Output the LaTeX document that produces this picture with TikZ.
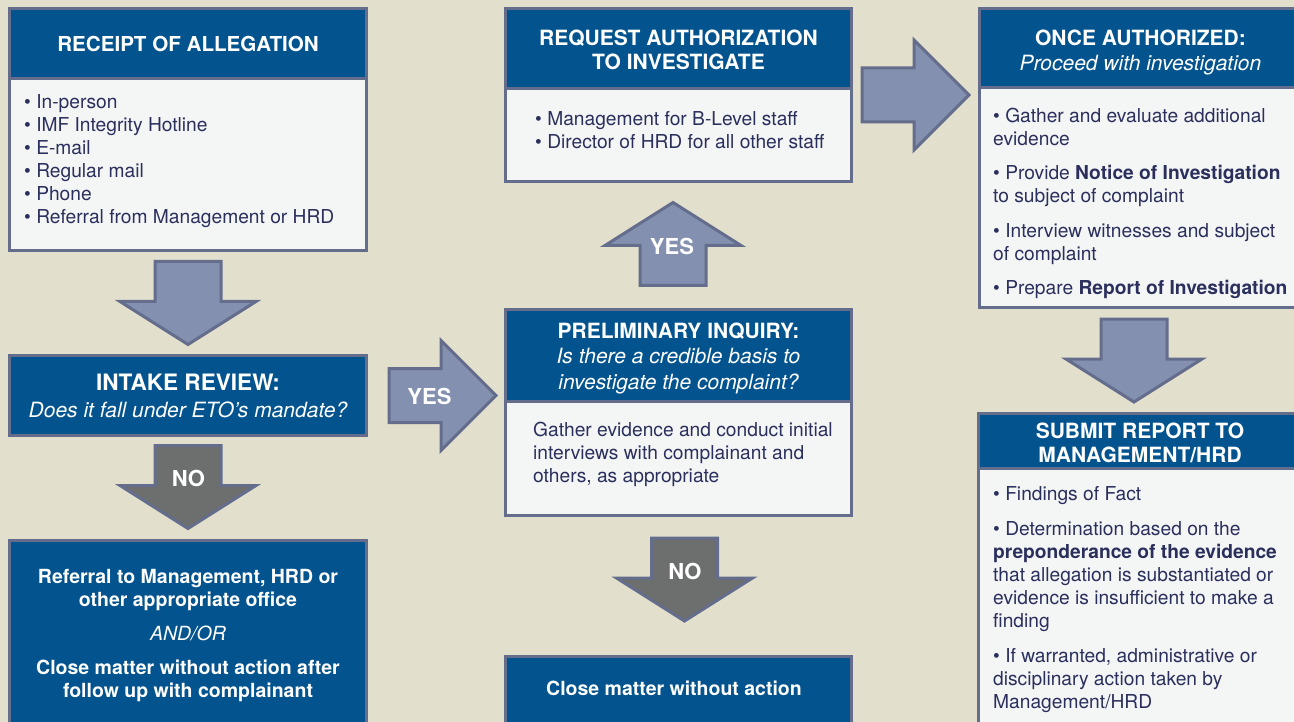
\documentclass[tikz,border=0pt]{standalone}
\usepackage{fontspec}
\setmainfont{TeX Gyre Heros}
\usepackage{xcolor}
\usetikzlibrary{calc}

\definecolor{paper}{HTML}{E2E0CD}
\definecolor{navy}{HTML}{02538E}
\definecolor{frame}{HTML}{646D8C}
\definecolor{pale}{HTML}{F4F5F5}
\definecolor{slate}{HTML}{8490AF}
\definecolor{stone}{HTML}{6D6E6E}
\definecolor{ink}{HTML}{2B2F5C}

\tikzset{
  banner/.style={draw=frame, line width=3pt, fill=navy, text=white, align=center,
    anchor=north west, outer sep=0pt, inner sep=0pt, text depth=0pt,
    font=\bfseries\fontsize{21}{24.5}\selectfont},
  panel/.style={draw=frame, line width=3pt, fill=pale, anchor=north west,
    outer sep=0pt, inner sep=0pt},
  bullets/.style={text=ink, align=left, anchor=north west, inner sep=0pt,
    font=\fontsize{19.2}{23}\selectfont},
  fat/.style={draw=frame, line width=3pt, line join=miter},
  tag/.style={text=white, font=\bfseries\fontsize{22}{22}\selectfont},
  % fat block arrows, drawn pointing down / right
  pics/fatdown/.style={code={\draw[fat, fill=#1] (-33,0) -- (33,0) -- (33,40) -- (68,40)
    -- (0,83) -- (-68,40) -- (-33,40) -- cycle;}},
  pics/fatdown/.default=slate,
  pics/fatright/.style={code={\draw[fat, fill=#1] (0,-27) -- (52,-27) -- (52,-55) -- (107,0)
    -- (52,55) -- (52,27) -- (0,27) -- cycle;}},
  pics/fatright/.default=slate
}

\begin{document}
\begin{tikzpicture}[x=1pt, y=-1pt]
  \useasboundingbox (0,0) rectangle (1294,722);
  \fill[paper] (0,0) rectangle (1294,722);
  \clip (0,0) rectangle (1294,722);

  % left column
  \node[banner, minimum width=357, minimum height=70, font=\bfseries\fontsize{20.6}{24}\selectfont]
    (receipt) at (9.5,9) {RECEIPT OF ALLEGATION};
  \node[panel, minimum width=357, minimum height=171.5] (receiptbox) at (receipt.south west) {};
  \node[bullets] (sources) at ($(receiptbox.north west)+(14.5,15)$)
    {\rule{0pt}{14pt}\textbullet\ In-person\\
     \textbullet\ IMF Integrity Hotline\\
     \textbullet\ E-mail\\
     \textbullet\ Regular mail\\
     \textbullet\ Phone\\
     \textbullet\ Referral from Management or HRD};

  \node[banner, minimum width=357, minimum height=80, font=\bfseries\fontsize{21}{27}\selectfont]
    (intake) at (9.5,355.5)
    {{\fontsize{22.6}{27}\selectfont INTAKE REVIEW:}\\ {\mdseries\itshape Does it fall under ETO’s mandate?}};

  \node[banner, minimum width=357, minimum height=185, font=\bfseries\fontsize{19.5}{23}\selectfont]
    (referral) at (9.5,540.5)
    {Referral to Management, HRD or\\ other appropriate office\\[11pt]
     {\mdseries\itshape AND/OR}\\[11pt]
     Close matter without action after\\ follow up with complainant};

  % middle column
  \node[banner, minimum width=346, minimum height=80.5] (request) at (505.5,8.5)
    {\rule{0pt}{18pt}REQUEST AUTHORIZATION\\ TO INVESTIGATE};
  \node[panel, minimum width=346, minimum height=92.5] (requestbox) at (request.south west) {};
  \node[bullets] (approvers) at ($(requestbox.north west)+(29.5,22)$)
    {\rule{0pt}{14pt}\textbullet\ Management for B-Level staff\\
     \textbullet\ Director of HRD for all other staff};

  \node[banner, minimum width=346, minimum height=91.5, font=\bfseries\fontsize{21}{25.5}\selectfont]
    (prelim) at (505.5,309.5)
    {\rule{0pt}{16.5pt}PRELIMINARY INQUIRY:\\ {\mdseries\itshape Is there a credible basis to}\\
     {\mdseries\itshape investigate the complaint?}};
  \node[panel, minimum width=346, minimum height=114.5] (prelimbox) at (prelim.south west) {};
  \node[bullets] (inquiry) at ($(prelimbox.north west)+(27.5,21)$)
    {\rule{0pt}{14pt}Gather evidence and conduct initial\\
     interviews with complainant and\\ others, as appropriate};

  \node[banner, minimum width=346, minimum height=85] (close) at (505.5,656.5) {};
  \node[tag, font=\bfseries\fontsize{19.5}{23}\selectfont] (closetext) at (674,688)
    {Close matter without action};

  % right column
  \node[banner, minimum width=322, minimum height=79.5, font=\bfseries\fontsize{21}{25}\selectfont]
    (authorized) at (979.5,8.5)
    {\rule{0pt}{19.5pt}ONCE AUTHORIZED:\\ {\mdseries\itshape Proceed with investigation}};
  \node[panel, minimum width=322, minimum height=219.5] (authbox) at (authorized.south west) {};
  \node[bullets] (steps) at ($(authbox.north west)+(13.5,19.5)$)
    {\rule{0pt}{14pt}\textbullet\ Gather and evaluate additional\\ evidence\\[11.5pt]
     \textbullet\ Provide \textbf{Notice of Investigation}\\ to subject of complaint\\[11.5pt]
     \textbullet\ Interview witnesses and subject\\ of complaint\\[11.5pt]
     \textbullet\ Prepare \textbf{Report of Investigation}};

  \node[banner, minimum width=323, minimum height=54.5] (submit) at (978.5,413.5)
    {\rule{0pt}{19pt}SUBMIT REPORT TO\\ MANAGEMENT/HRD};
  \node[panel, minimum width=323, minimum height=272] (submitbox) at (submit.south west) {};
  \node[bullets] (outcomes) at ($(submitbox.north west)+(14.5,18.7)$)
    {\rule{0pt}{14pt}\textbullet\ Findings of Fact\\[12pt]
     \textbullet\ Determination based on the\\ \textbf{preponderance of the evidence}\\
     that allegation is substantiated or\\ evidence is insufficient to make a\\ finding\\[12pt]
     \textbullet\ If warranted, administrative or\\ disciplinary action taken by\\ Management/HRD};

  % block arrows between the boxes
  \coordinate (requestmid) at ($(request.north east)!0.5!(requestbox.south east)$);
  \pic at ([yshift=-11pt]receiptbox.south) {fatdown};
  \pic at ([yshift=-10pt]intake.south) {fatdown=stone};
  \pic at ([xshift=22.5pt]intake.east) {fatright};
  \pic[yscale=-1] at ([xshift=-5.5pt,yshift=24pt]prelim.north) {fatdown};
  \pic at ([xshift=6pt,yshift=-22.5pt]prelimbox.south) {fatdown=stone};
  \pic at ([xshift=10.5pt]requestmid) {fatright};
  \pic at ([xshift=-6.5pt,yshift=-11.5pt]authbox.south) {fatdown};

  \node[tag] (nointake) at (188.5,478.5) {NO};
  \node[tag] (yesright) at (429.5,396.5) {YES};
  \node[tag] (yesup) at (672,246.5) {YES};
  \node[tag] (noprelim) at (685,571) {NO};
\end{tikzpicture}
\end{document}
